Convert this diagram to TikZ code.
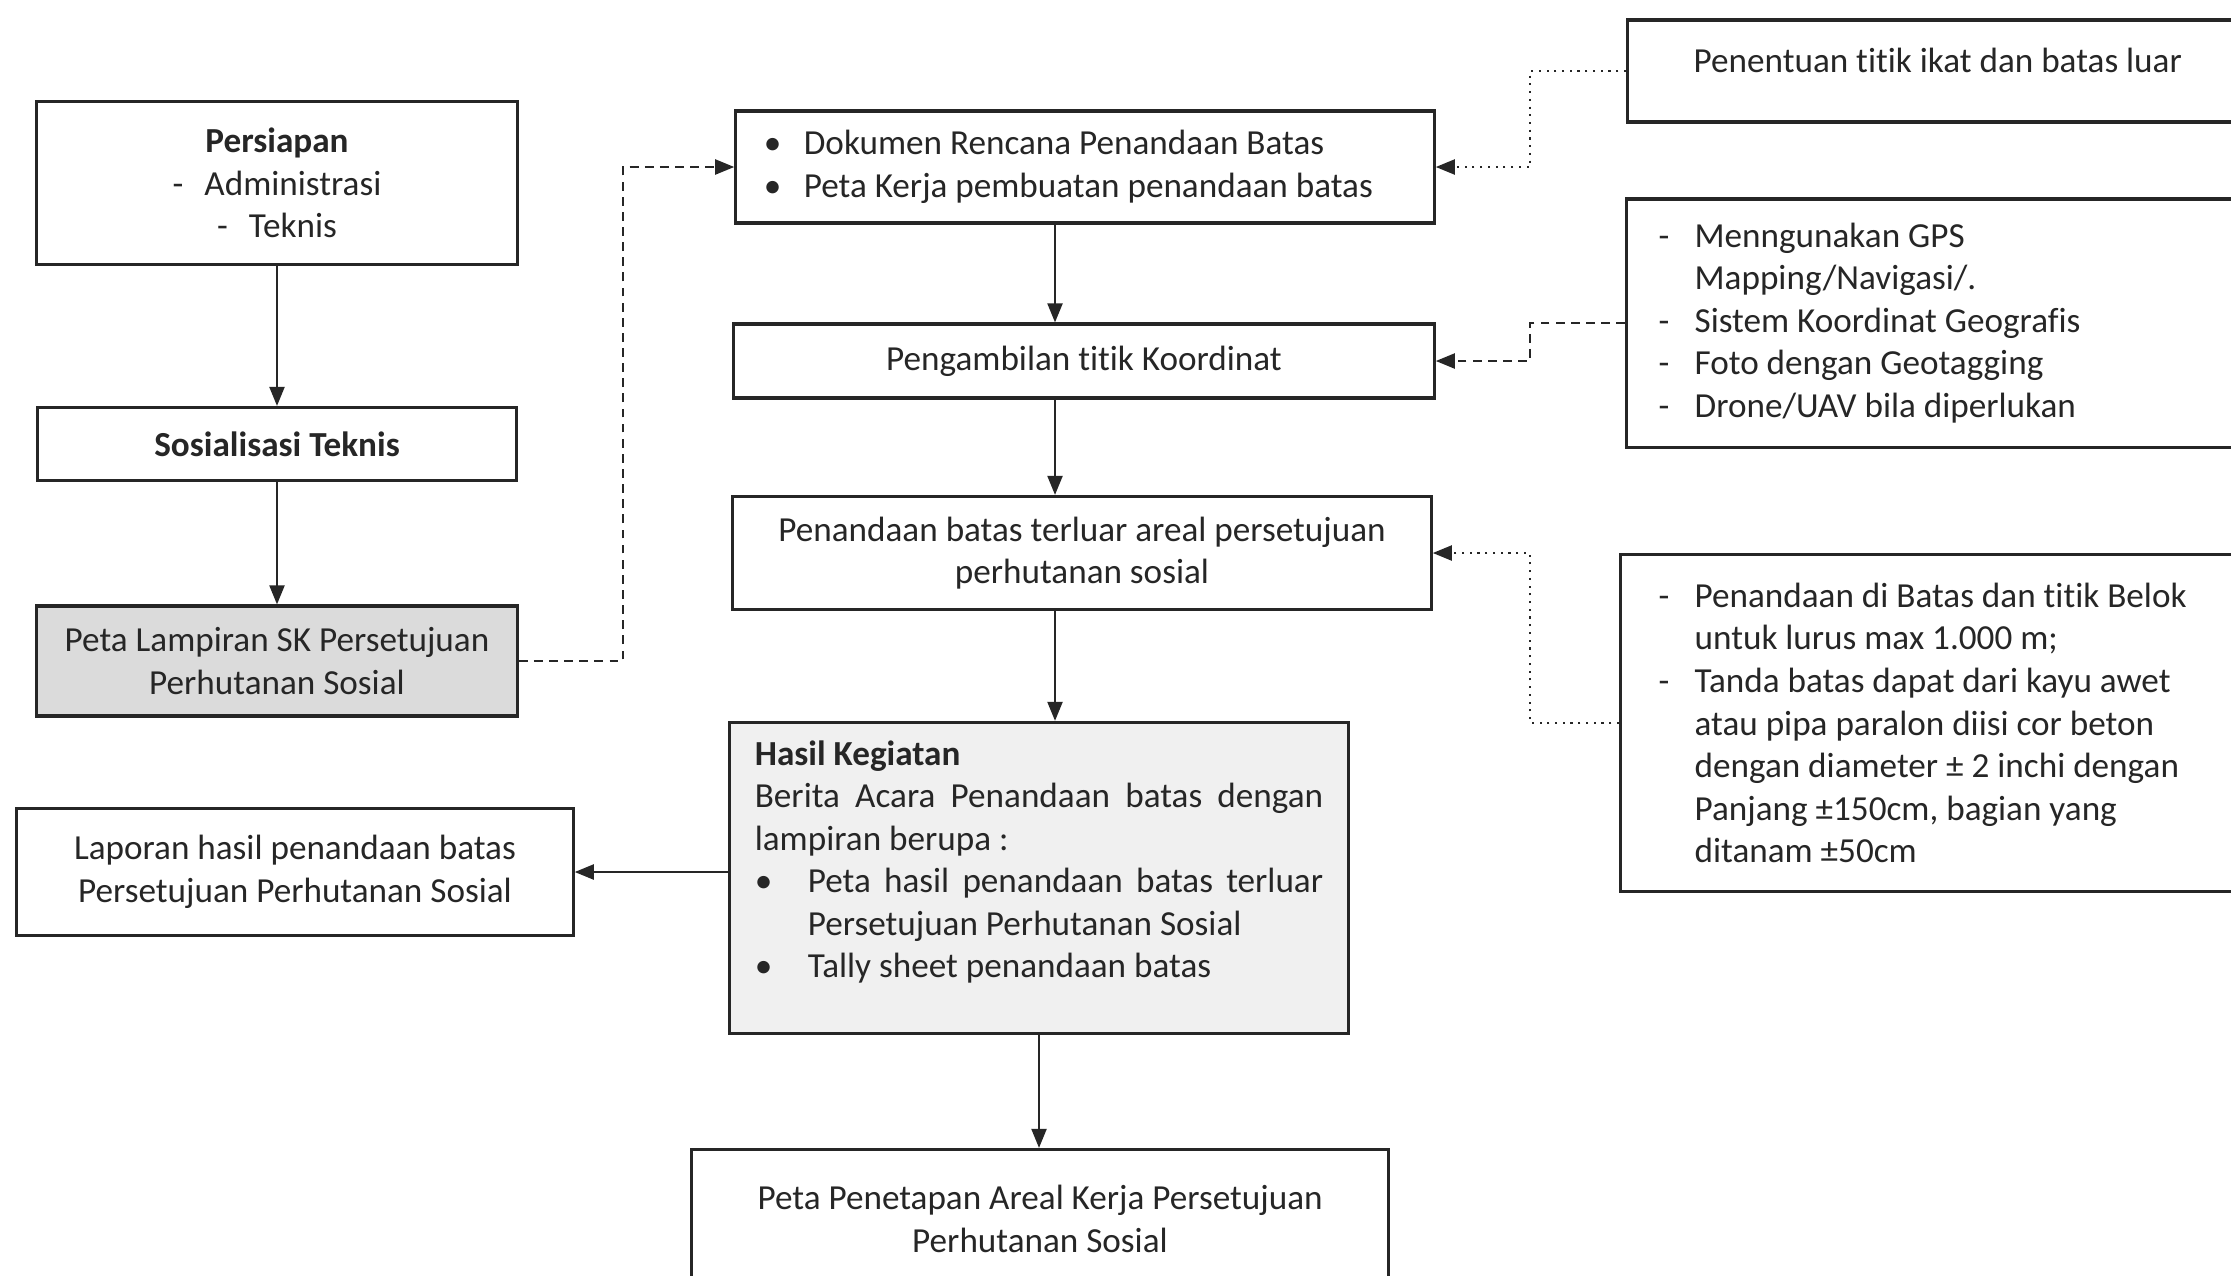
\documentclass[tikz,border=0pt]{standalone}
\usepackage{fontspec}
\setmainfont{Carlito}[Ligatures=NoCommon]
\usetikzlibrary{arrows.meta}
\newcommand{\bulletrow}[2]{\makebox[#1][l]{\textbullet}#2}
\newcommand{\dashrow}[1]{\makebox[0.36cm][l]{-}#1}
\newcommand{\indentrow}[2]{\hspace*{#1}#2}
\tikzset{
    flow-box/.style = {draw=black!85, fill=white, line width=0.9pt, rectangle, inner xsep=0.28cm, align=center, text=black!85, font=\fontsize{10}{12.1}\selectfont},
    shaded-box/.style = {flow-box, fill=gray!28},
    note-box/.style = {flow-box, anchor=west, align=flush left},
    flow-arrow/.style = {-{Triangle[length=1.9mm, width=1.5mm]}, line width=0.6pt, draw=black!85},
    dot-arrow/.style = {flow-arrow, dash pattern=on 0.6pt off 1.6pt},
    dash-arrow/.style = {flow-arrow, dash pattern=on 2.5pt off 1.8pt},
}

\begin{document}
\begin{tikzpicture}[x=0.01cm, y=-0.01cm]
\useasboundingbox (0,0) rectangle (2231,1275);
\clip (0,0) rectangle (2231,1275);
\fill[white] (0,0) rectangle (2231,1275);

\node[flow-box, minimum width=4.80cm, minimum height=1.63cm] (persiapan) at (277,183) {\textbf{Persiapan}\\ -\hspace{6pt}Administrasi\\ -\hspace{6pt}Teknis};
\node[flow-box, minimum width=4.78cm, minimum height=0.73cm] (sosialisasi) at (277,444) {\textbf{Sosialisasi Teknis}};
\node[shaded-box, minimum width=4.78cm, minimum height=1.10cm] (lampiran) at (277,661) {Peta Lampiran SK Persetujuan\\ Perhutanan Sosial};
\node[flow-box, minimum width=5.56cm, minimum height=1.27cm] (laporan) at (295,872) {Laporan hasil penandaan batas\\ Persetujuan Perhutanan Sosial};

\node[flow-box, minimum height=1.12cm, text width=6.42cm, align=flush left] (dokumen) at (1085,167) {\bulletrow{0.40cm}{Dokumen Rencana Penandaan Batas}\\ \bulletrow{0.40cm}{Peta Kerja pembuatan penandaan batas}};
\node[flow-box, minimum width=7.00cm, minimum height=0.74cm] (pengambilan) at (1084,361) {Pengambilan titik Koordinat};
\node[flow-box, minimum width=6.98cm, minimum height=1.13cm] (penandaan) at (1082,553) {Penandaan batas terluar areal persetujuan\\ perhutanan sosial};
\node[shaded-box, fill=gray!12, minimum height=3.11cm, text width=5.68cm, inner xsep=0.255cm, align=justify] (hasil) at (1039,878) {\textbf{Hasil Kegiatan}\\ Berita Acara Penandaan batas dengan\linebreak lampiran berupa :\\ \bulletrow{0.53cm}{\makebox[5.15cm][s]{Peta hasil penandaan batas terluar}}\\ \indentrow{0.53cm}{Persetujuan Perhutanan Sosial}\\ \bulletrow{0.53cm}{Tally sheet penandaan batas}\par\kern0.32cm};
\node[flow-box, minimum width=6.97cm, minimum height=1.39cm] (penetapan) at (1040,1219) {Peta Penetapan Areal Kerja Persetujuan\\ Perhutanan Sosial};

\node[note-box, inner xsep=0.66cm, text width=5.02cm, minimum height=1.02cm] (penentuan) at (1626,71) {Penentuan titik ikat dan batas luar\par\kern0.22cm};
\node[note-box, inner xsep=0.32cm, text width=5.71cm, minimum height=2.48cm] (gps) at (1625,323) {\dashrow{Menngunakan GPS}\\ \indentrow{0.36cm}{Mapping/Navigasi/.}\\ \dashrow{Sistem Koordinat Geografis}\\ \dashrow{Foto dengan Geotagging}\\ \dashrow{Drone/UAV bila diperlukan}};
\node[note-box, inner xsep=0.38cm, text width=5.65cm, minimum height=3.37cm] (patok) at (1619,723) {\dashrow{Penandaan di Batas dan titik Belok}\\ \indentrow{0.36cm}{untuk lurus max 1.000 m;}\\ \dashrow{Tanda batas dapat dari kayu awet}\\ \indentrow{0.36cm}{atau pipa paralon diisi cor beton}\\ \indentrow{0.36cm}{dengan diameter ± 2 inchi dengan}\\ \indentrow{0.36cm}{Panjang ±150cm, bagian yang}\\ \indentrow{0.36cm}{ditanam ±50cm}};

\coordinate (spine) at (1055,0);
\coordinate (bend-left) at (623,0);
\coordinate (bend-right) at (1530,0);

\draw[flow-arrow] (persiapan.south) -- (sosialisasi.north);
\draw[flow-arrow] (sosialisasi.south) -- (lampiran.north);
\draw[flow-arrow] (dokumen.south -| spine) -- (pengambilan.north -| spine);
\draw[flow-arrow] (pengambilan.south -| spine) -- (penandaan.north -| spine);
\draw[flow-arrow] (penandaan.south -| spine) -- (hasil.north -| spine);
\draw[flow-arrow] (hasil.south) -- (hasil.south |- penetapan.north);
\draw[flow-arrow] (hasil.west |- laporan.east) -- (laporan.east);

\draw[dash-arrow] (lampiran.east) -- (lampiran.east -| bend-left) -- (bend-left |- dokumen.west) -- (dokumen.west);
\draw[dot-arrow] (penentuan.west) -- (penentuan.west -| bend-right) -- (bend-right |- dokumen.east) -- (dokumen.east);
\draw[dash-arrow] (gps.west) -- (gps.west -| bend-right) -- (bend-right |- pengambilan.east) -- (pengambilan.east);
\draw[dot-arrow] (patok.west) -- (patok.west -| bend-right) -- (bend-right |- penandaan.east) -- (penandaan.east);
\end{tikzpicture}
\end{document}
